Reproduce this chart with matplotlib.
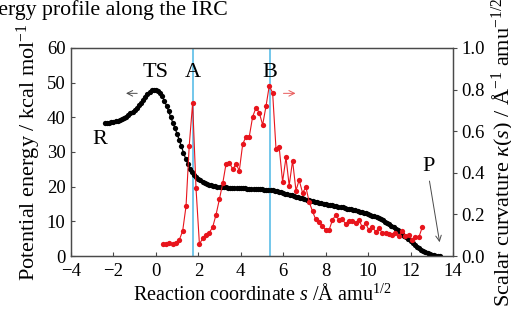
import numpy as np
import matplotlib
matplotlib.use("Agg")
import matplotlib.pyplot as plt

plt.rcParams["font.family"] = ["Liberation Serif", "DejaVu Serif"]
plt.rcParams["mathtext.fontset"] = "custom"
plt.rcParams["mathtext.rm"] = "Liberation Serif"
plt.rcParams["mathtext.it"] = "Liberation Serif:italic"

# potential energy along the IRC (kcal/mol), s in amu^1/2 Angstrom
energy_s = [
    -2.4, -2.3, -2.2, -2.1, -2.0, -1.9, -1.8, -1.7, -1.6, -1.5,
    -1.4, -1.3, -1.2, -1.1, -1.0, -0.9, -0.8, -0.7, -0.6, -0.5,
    -0.4, -0.3, -0.2, -0.1, 0.0, 0.1, 0.2, 0.3, 0.4, 0.5,
    0.6, 0.7, 0.8, 0.9, 1.0, 1.1, 1.2, 1.3, 1.4, 1.5,
    1.6, 1.7, 1.8, 1.9, 2.0, 2.1, 2.2, 2.3, 2.4, 2.5,
    2.6, 2.7, 2.8, 2.9, 3.0, 3.1, 3.2, 3.3, 3.4, 3.5,
    3.6, 3.7, 3.8, 3.9, 4.0, 4.1, 4.2, 4.3, 4.4, 4.5,
    4.6, 4.7, 4.8, 4.9, 5.0, 5.1, 5.2, 5.3, 5.4, 5.5,
    5.6, 5.7, 5.8, 5.9, 6.0, 6.1, 6.2, 6.3, 6.4, 6.5,
    6.6, 6.7, 6.8, 6.9, 7.0, 7.1, 7.2, 7.3, 7.4, 7.5,
    7.6, 7.7, 7.8, 7.9, 8.0, 8.1, 8.2, 8.3, 8.4, 8.5,
    8.6, 8.7, 8.8, 8.9, 9.0, 9.1, 9.2, 9.3, 9.4, 9.5,
    9.6, 9.7, 9.8, 9.9, 10.0, 10.1, 10.2, 10.3, 10.4, 10.5,
    10.6, 10.7, 10.8, 10.9, 11.0, 11.1, 11.2, 11.3, 11.4, 11.5,
    11.6, 11.7, 11.8, 11.9, 12.0, 12.1, 12.2, 12.3, 12.4, 12.5,
    12.6, 12.7, 12.8, 12.9, 13.0, 13.1, 13.2, 13.3, 13.4,
]
energy = [
    38.3, 38.3, 38.4, 38.5, 38.6, 38.8, 39.0, 39.2, 39.5, 39.8,
    40.2, 40.6, 41.1, 41.6, 42.2, 42.8, 43.5, 44.2, 45.0, 45.8,
    46.6, 47.3, 47.8, 48.0, 48.0, 47.7, 47.0, 46.0, 44.8, 43.3,
    41.7, 40.0, 38.4, 36.8, 35.2, 33.4, 31.6, 29.8, 28.1, 26.6,
    25.2, 24.1, 23.3, 22.7, 22.2, 21.8, 21.4, 21.1, 20.8, 20.6,
    20.4, 20.2, 20.1, 20.0, 19.9, 19.85, 19.8, 19.8, 19.75, 19.7,
    19.7, 19.65, 19.6, 19.6, 19.55, 19.5, 19.5, 19.45, 19.4, 19.4,
    19.35, 19.3, 19.3, 19.25, 19.2, 19.15, 19.1, 19.05, 19.0, 18.9,
    18.8, 18.65, 18.5, 18.35, 18.2, 18.0, 17.85, 17.65, 17.5, 17.3,
    17.1, 16.95, 16.75, 16.6, 16.4, 16.25, 16.1, 15.95, 15.8, 15.65,
    15.5, 15.4, 15.25, 15.1, 15.0, 14.85, 14.75, 14.6, 14.5, 14.4,
    14.25, 14.15, 14.0, 13.85, 13.7, 13.6, 13.45, 13.3, 13.15, 13.0,
    12.8, 12.65, 12.45, 12.3, 12.1, 11.9, 11.65, 11.4, 11.15, 10.9,
    10.6, 10.25, 9.9, 9.55, 9.2, 8.8, 8.35, 7.9, 7.45, 7.0,
    6.45, 5.9, 5.35, 4.8, 4.2, 3.7, 3.2, 2.7, 2.25, 1.8,
    1.4, 1.05, 0.75, 0.55, 0.4, 0.25, 0.15, 0.05, 0.0,
]

# scalar curvature kappa(s)
curv_s = [
    0.32, 0.48, 0.63, 0.79, 0.95, 1.10, 1.26, 1.42, 1.57, 1.73,
    1.89, 2.05, 2.21, 2.36, 2.52, 2.68, 2.83, 2.99, 3.15, 3.30,
    3.46, 3.62, 3.78, 3.93, 4.09, 4.25, 4.40, 4.56, 4.72, 4.87,
    5.03, 5.19, 5.34, 5.50, 5.66, 5.81, 5.97, 6.13, 6.28, 6.44,
    6.60, 6.75, 6.91, 7.07, 7.22, 7.38, 7.53, 7.69, 7.85, 8.00,
    8.16, 8.32, 8.47, 8.63, 8.79, 8.94, 9.10, 9.26, 9.41, 9.57,
    9.73, 9.88, 10.04, 10.20, 10.35, 10.51, 10.67, 10.82, 10.98, 11.14,
    11.29, 11.45, 11.61, 11.76, 11.92, 12.08, 12.23, 12.39, 12.55,
]
curvature = [
    0.058, 0.056, 0.064, 0.058, 0.064, 0.077, 0.12, 0.24, 0.53, 0.735,
    0.325, 0.058, 0.085, 0.10, 0.112, 0.141, 0.197, 0.272, 0.35, 0.44,
    0.449, 0.417, 0.442, 0.41, 0.538, 0.574, 0.574, 0.67, 0.713, 0.689,
    0.63, 0.721, 0.817, 0.785, 0.513, 0.522, 0.357, 0.474, 0.338, 0.458,
    0.314, 0.365, 0.304, 0.33, 0.261, 0.215, 0.176, 0.165, 0.144, 0.125,
    0.125, 0.173, 0.197, 0.173, 0.176, 0.154, 0.168, 0.168, 0.160, 0.173,
    0.138, 0.157, 0.125, 0.141, 0.117, 0.133, 0.112, 0.109, 0.106, 0.101,
    0.109, 0.096, 0.12, 0.096, 0.101, 0.077, 0.09, 0.09, 0.138,
]

point_A = 1.73
point_B = 5.36

fig = plt.figure(figsize=(5.11, 3.13), dpi=100)
ax = fig.add_axes([0.139, 0.182, 0.7475, 0.665])
ax2 = ax.twinx()

red = "#e8141c"
blue = "#4db8e6"
grey = "#4a4a4a"

ax.axvline(point_A, color=blue, lw=1.1, zorder=1)
ax.axvline(point_B, color=blue, lw=1.1, zorder=1)

ax.plot(energy_s, energy, color="black", lw=0.9, marker="o", ms=3.8,
        markeredgewidth=0, zorder=3)
ax2.plot(curv_s, curvature, color=red, lw=0.8, marker="o", ms=3.8,
         markeredgewidth=0, zorder=3)

ax.set_xlim(-4, 14)
ax.set_ylim(0, 60)
ax2.set_ylim(0, 1.0)
ax.set_xticks(np.arange(-4, 15, 2))
ax.set_yticks(np.arange(0, 61, 10))
ax2.set_yticks(np.arange(0, 1.01, 0.2))
ax2.set_yticklabels(["%.1f" % v for v in np.arange(0, 1.01, 0.2)])

for a in (ax, ax2):
    for sp in a.spines.values():
        sp.set_color(grey)
        sp.set_linewidth(0.9)
ax.tick_params(axis="both", direction="in", length=3, color=grey,
               labelsize=13.5, pad=4)
ax.tick_params(axis="x", pad=5)
ax2.tick_params(axis="y", direction="out", length=3, color=grey,
                labelsize=13.5, pad=3)

ax.set_xlabel(r"Reaction coordinate $s$ /Å amu$^{1/2}$", fontsize=14.5,
              labelpad=3)
ax.set_ylabel(r"Potential energy / kcal mol$^{-1}$", fontsize=16, labelpad=3)
ax2.set_ylabel(r"Scalar curvature $\kappa$($s$) / Å$^{-1}$ amu$^{-1/2}$",
               fontsize=16, labelpad=4)

fs = 16
ax.text(-2.63, 33.5, "R", fontsize=fs, ha="center", va="center")
ax.text(0.0, 52.8, "TS", fontsize=fs, ha="center", va="center")
ax.text(point_A, 52.8, "A", fontsize=fs, ha="center", va="center")
ax.text(point_B, 53.0, "B", fontsize=fs, ha="center", va="center")
ax.text(12.84, 25.8, "P", fontsize=fs, ha="center", va="center")

ax.annotate("", xy=(-1.54, 46.9), xytext=(-0.75, 46.9),
            arrowprops=dict(arrowstyle="->", color=grey, lw=0.7))
ax.annotate("", xy=(6.71, 46.9), xytext=(5.88, 46.9),
            arrowprops=dict(arrowstyle="->", color="#e85a5a", lw=0.7))
ax.annotate("", xy=(13.39, 3.2), xytext=(12.87, 22.4),
            arrowprops=dict(arrowstyle="->", color=grey, lw=0.7))

fig.text(228 / 511, 1 - 10 / 313, "Energy profile along the IRC",
         fontsize=15.7, ha="right", va="center")

fig.savefig("out.png", dpi=100)
